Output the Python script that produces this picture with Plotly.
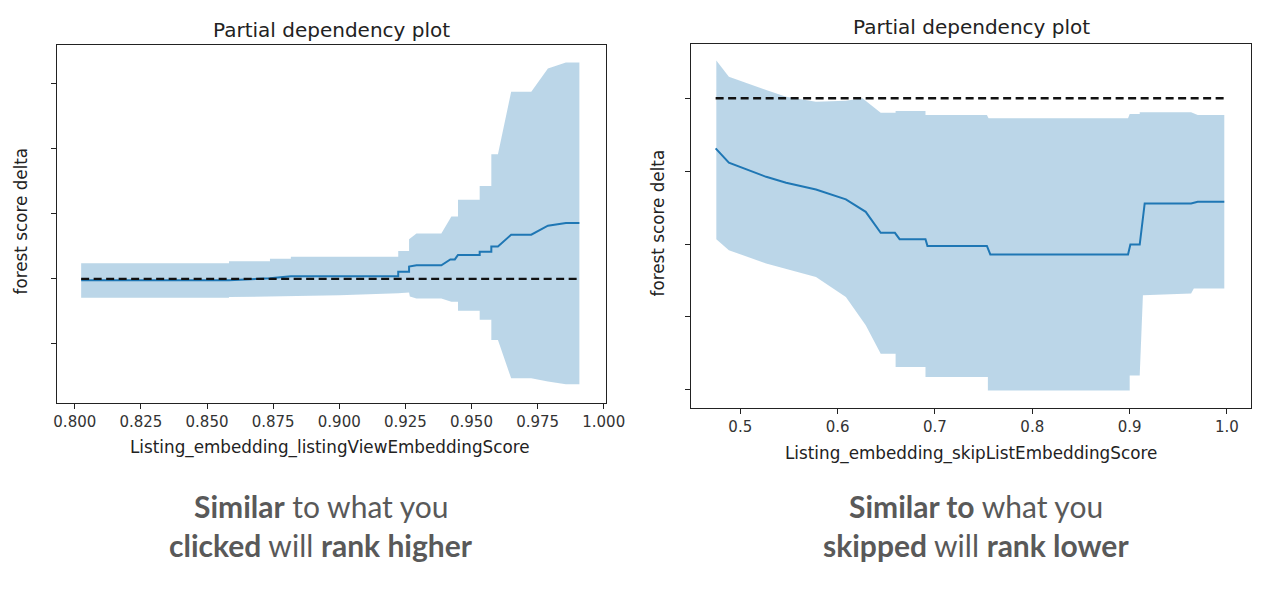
import plotly.graph_objects as go

# left panel: listingViewEmbeddingScore
left_upper_x = [0.8024, 0.8583, 0.8583, 0.8738, 0.8738, 0.8817, 0.8817, 0.9223, 0.9223, 0.9264,
                0.9264, 0.9292, 0.9386, 0.9424, 0.9449, 0.9449, 0.9531, 0.9531, 0.9575, 0.9575,
                0.9600, 0.9650, 0.9726, 0.9789, 0.9857, 0.9908]
left_upper_y = [0.24, 0.24, 0.27, 0.27, 0.31, 0.31, 0.34, 0.34, 0.43, 0.43,
                0.61, 0.70, 0.70, 0.96, 0.96, 1.22, 1.22, 1.43, 1.43, 1.92,
                1.92, 2.88, 2.88, 3.24, 3.33, 3.33]
left_lower_x = [0.8024, 0.8583, 0.8583, 0.8817, 0.9000, 0.9223, 0.9264, 0.9267, 0.9292, 0.9386,
                0.9424, 0.9449, 0.9449, 0.9531, 0.9531, 0.9575, 0.9575, 0.9600, 0.9650, 0.9726,
                0.9789, 0.9857, 0.9908]
left_lower_y = [-0.29, -0.29, -0.28, -0.26, -0.25, -0.22, -0.21, -0.27, -0.30, -0.30,
                -0.35, -0.35, -0.49, -0.49, -0.63, -0.63, -0.94, -0.94, -1.53, -1.53,
                -1.58, -1.62, -1.62]
left_mean_x = [0.8024, 0.8583, 0.8738, 0.8817, 0.9223, 0.9223, 0.9264, 0.9264, 0.9292, 0.9386,
               0.9420, 0.9437, 0.9449, 0.9531, 0.9531, 0.9575, 0.9575, 0.9600, 0.9650, 0.9726,
               0.9789, 0.9857, 0.9908]
left_mean_y = [-0.02, -0.02, 0.01, 0.04, 0.04, 0.11, 0.11, 0.19, 0.21, 0.21,
               0.30, 0.30, 0.37, 0.37, 0.42, 0.42, 0.50, 0.50, 0.68, 0.68,
               0.82, 0.86, 0.86]

# right panel: skipListEmbeddingScore
right_upper_x = [0.4754, 0.4883, 0.5266, 0.5471, 0.5778, 0.6085, 0.6255, 0.6443, 0.6596, 0.6596,
                 0.6903, 0.6903, 0.7534, 0.7551, 0.8984, 0.9001, 0.9104, 0.9104, 0.9632, 0.9700,
                 0.9973]
right_upper_y = [0.517, 0.297, 0.114, 0.022, -0.047, -0.033, 0.0, -0.197, -0.197, -0.175,
                 -0.175, -0.23, -0.23, -0.275, -0.275, -0.216, -0.216, -0.193, -0.193, -0.23,
                 -0.23]
right_lower_x = [0.4754, 0.4883, 0.5266, 0.5778, 0.6085, 0.6289, 0.6443, 0.6596, 0.6596, 0.6903,
                 0.6903, 0.7544, 0.7544, 0.9001, 0.9001, 0.9104, 0.9137, 0.9632, 0.9660, 0.9973]
right_lower_y = [-1.934, -2.085, -2.268, -2.452, -2.727, -3.116, -3.505, -3.505, -3.689, -3.689,
                 -3.827, -3.827, -4.01, -4.01, -3.806, -3.806, -2.704, -2.68, -2.61, -2.61]
right_mean_x = [0.4747, 0.4883, 0.5266, 0.5471, 0.5778, 0.6085, 0.6289, 0.6443, 0.6589, 0.6637,
                0.6903, 0.6923, 0.7534, 0.7569, 0.8984, 0.9008, 0.9104, 0.9155, 0.9632, 0.9700,
                0.9973]
right_mean_y = [-0.687, -0.885, -1.078, -1.16, -1.251, -1.388, -1.558, -1.847, -1.847, -1.934,
                -1.934, -2.026, -2.026, -2.144, -2.144, -2.007, -2.007, -1.443, -1.443, -1.421,
                -1.421]

left_ticks = [0.800, 0.825, 0.850, 0.875, 0.900, 0.925, 0.950, 0.975, 1.000]
right_ticks = [0.5, 0.6, 0.7, 0.8, 0.9, 1.0]
left_yticks = [-1, 0, 1, 2, 3]
right_yticks = [-4, -3, -2, -1, 0]

title_text = "Partial dependency plot"
ylabel = "forest score delta"
left_xlabel = "Listing_embedding_listingViewEmbeddingScore"
right_xlabel = "Listing_embedding_skipListEmbeddingScore"

band_color = "rgba(31,119,180,0.3)"
line_color = "#1f77b4"

# the page keeps an 8px body margin and comes out slightly narrower than asked,
# so positions (in target pixels) are mapped back through that
OFF = 8
W, H = 1280 - 2 * OFF, 589 - 2 * OFF
X0, XS = 8.5, 0.9865


def hx(x):
    return (x - X0) / XS / W


def vy(y):
    return 1 - (y - OFF) / H


fig = go.Figure()


def add_panel(ux, uy, lx, ly, mx, my, xa, ya):
    fig.add_trace(go.Scatter(x=ux + lx[::-1], y=uy + ly[::-1], fill="toself",
                             fillcolor=band_color, line=dict(width=0), mode="lines",
                             xaxis=xa, yaxis=ya, hoverinfo="skip"))
    fig.add_trace(go.Scatter(x=mx, y=my, mode="lines", line=dict(color=line_color, width=2),
                             xaxis=xa, yaxis=ya))
    fig.add_trace(go.Scatter(x=[mx[0], mx[-1]], y=[0, 0], mode="lines",
                             line=dict(color="#111111", width=2.4, dash="8px,4.5px"),
                             xaxis=xa, yaxis=ya))


add_panel(left_upper_x, left_upper_y, left_lower_x, left_lower_y, left_mean_x, left_mean_y, "x", "y")
add_panel(right_upper_x, right_upper_y, right_lower_x, right_lower_y, right_mean_x, right_mean_y, "x2", "y2")

axis_style = dict(showline=True, linecolor="#222222", linewidth=1.2, mirror=True,
                  showgrid=False, zeroline=False, ticks="outside", ticklen=5,
                  tickcolor="#222222", tickfont=dict(family="DejaVu Sans", size=15, color="#333333"))

fig.update_layout(
    width=W, height=H, margin=dict(l=0, r=0, t=0, b=0),
    paper_bgcolor="white", plot_bgcolor="white", showlegend=False,
    xaxis=dict(domain=[hx(54.5), hx(605.7)], range=[0.7932, 1.0008],
               tickvals=left_ticks, tickformat=".3f", anchor="y", **axis_style),
    yaxis=dict(domain=[vy(402.7), vy(45)], range=[-1.905, 3.6],
               tickvals=left_yticks, showticklabels=False, anchor="x", **axis_style),
    xaxis2=dict(domain=[hx(691.7), hx(1253.3)], range=[0.4499, 1.0246],
                tickvals=right_ticks, tickformat=".1f", anchor="y2", **axis_style),
    yaxis2=dict(domain=[vy(408.3), vy(44)], range=[-4.255, 0.745],
                tickvals=right_yticks, showticklabels=False, anchor="x2", **axis_style),
)


def px_note(text, x, y, size, family="DejaVu Sans", color="#222222", angle=0):
    fig.add_annotation(text=text, x=hx(x), y=vy(y), xref="paper", yref="paper",
                       showarrow=False, xanchor="center", yanchor="middle", textangle=angle,
                       font=dict(family=family, size=size, color=color))


px_note(title_text, 330, 30, 20)
px_note(title_text, 973, 27, 20)
px_note(left_xlabel, 329, 447, 16.8)
px_note(right_xlabel, 972, 453, 16.8)
px_note(ylabel, 18.5, 220.5, 16.8, angle=-90)
px_note(ylabel, 658.5, 223, 16.8, angle=-90)

gray = "#595959"
px_note("<b>Similar</b> to what you", 320, 506, 30, family="Lato", color=gray)
px_note("<b>clicked</b> will <b>rank higher</b>", 320, 545, 30, family="Lato", color=gray)
px_note("<b>Similar to</b> what you", 977, 506, 30, family="Lato", color=gray)
px_note("<b>skipped</b> will <b>rank lower</b>", 977, 545, 30, family="Lato", color=gray)

fig.write_html("out.html")
